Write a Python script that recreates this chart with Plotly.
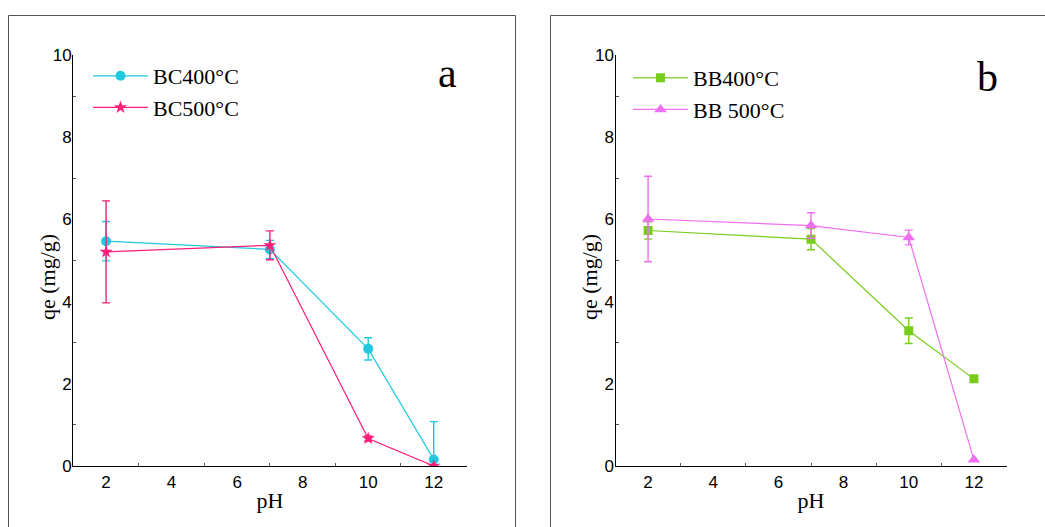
import plotly.graph_objects as go

W, H = 1045, 527

ph = [2, 7, 10, 12]

bc400 = [5.47, 5.27, 2.85, 0.16]
bc400_err = [0.48, 0.22, 0.27, 0.92]
bc500 = [5.21, 5.37, 0.67, 0.0]
bc500_err = [1.24, 0.35, 0.06, 0.0]

bb400 = [5.73, 5.52, 3.29, 2.12]
bb400_err = [0.21, 0.26, 0.31, 0.05]
bb500 = [6.01, 5.85, 5.56, 0.15]
bb500_err = [1.04, 0.31, 0.18, 0.0]

C_CYAN = "#1fc9e0"
C_PINK = "#ff1e79"
C_GREEN = "#77cc1c"
C_VIOLET = "#f06ef0"

SERIF = "Liberation Serif"
SANS = "Liberation Sans"

fig = go.Figure()

def add(x, y, err, name, color, symbol, size, xa, ya, leg):
    fig.add_trace(go.Scatter(
        x=x, y=y, name=name, mode="lines+markers",
        line=dict(color=color, width=1.2),
        marker=dict(color=color, symbol=symbol, size=size, line=dict(width=0)),
        error_y=dict(type="data", array=err, visible=True, color=color,
                     thickness=1.4, width=4),
        xaxis=xa, yaxis=ya, legend=leg,
    ))

add(ph, bc400, bc400_err, "BC400°C", C_CYAN, "circle", 10, "x", "y", "legend")
add(ph, bc500, bc500_err, "BC500°C", C_PINK, "star", 10, "x", "y", "legend")
add(ph, bb400, bb400_err, "BB400°C", C_GREEN, "square", 9, "x2", "y2", "legend2")
add(ph, bb500, bb500_err, "BB 500°C", C_VIOLET, "triangle-up", 11, "x2", "y2", "legend2")

dom_y = [1 - 466 / H, 1 - 55 / H]
dom_x1 = [73.3 / W, 466.5 / W]
dom_x2 = [615.5 / W, 1006.5 / W]

xax = dict(range=[1, 13], tickvals=[2, 4, 6, 8, 10, 12], showgrid=False, zeroline=False,
           showline=True, linecolor="black", linewidth=1.3, ticks="",
           minor=dict(tickvals=[3, 5, 7, 9, 11], ticks="inside", ticklen=3, tickcolor="#555"),
           tickfont=dict(family=SANS, size=17, color="black"),
           title=dict(text="pH", font=dict(family=SERIF, size=22, color="black"), standoff=2))
yax = dict(range=[0, 10], tickvals=[0, 2, 4, 6, 8, 10], showgrid=False, zeroline=False,
           showline=True, linecolor="black", linewidth=1.3, ticks="",
           minor=dict(tickvals=[1, 3, 5, 7, 9], ticks="inside", ticklen=3, tickcolor="#555"),
           tickfont=dict(family=SANS, size=17, color="black"), ticklabelstandoff=-3)

leg = dict(bgcolor="rgba(0,0,0,0)", borderwidth=0, xanchor="left", yanchor="top",
           font=dict(family=SERIF, size=22, color="black"), itemwidth=55, tracegroupgap=0)

ytitle = dict(text="qe (mg/g)", xref="paper", yref="paper", showarrow=False,
              textangle=-90, xanchor="center", yanchor="middle",
              font=dict(family=SERIF, size=22, color="black"))

fig.update_layout(
    width=W, height=H, margin=dict(l=0, r=0, t=0, b=0, autoexpand=False),
    paper_bgcolor="white", plot_bgcolor="white",
    xaxis=dict(domain=dom_x1, anchor="y", **xax),
    yaxis=dict(domain=dom_y, anchor="x", **yax),
    xaxis2=dict(domain=dom_x2, anchor="y2", **xax),
    yaxis2=dict(domain=dom_y, anchor="x2", **yax),
    legend=dict(x=88 / W, y=1 - 55 / H, **leg),
    legend2=dict(x=628 / W, y=1 - 57 / H, **leg),
    showlegend=True,
    shapes=[
        dict(type="rect", xref="paper", yref="paper", x0=8.5 / W, x1=515.5 / W,
             y0=-0.1, y1=1 - 15.5 / H, line=dict(color="#555", width=1)),
        dict(type="rect", xref="paper", yref="paper", x0=550.5 / W, x1=1.1,
             y0=-0.1, y1=1 - 15.5 / H, line=dict(color="#555", width=1)),
    ],
    annotations=[
        dict(text="a", xref="paper", yref="paper", x=447 / W, y=1 - 73 / H,
             showarrow=False, xanchor="center", yanchor="middle",
             font=dict(family=SERIF, size=42, color="black")),
        dict(text="b", xref="paper", yref="paper", x=987 / W, y=1 - 77 / H,
             showarrow=False, xanchor="center", yanchor="middle",
             font=dict(family=SERIF, size=42, color="black")),
        dict(x=47 / W, y=1 - 277 / H, **ytitle),
        dict(x=589 / W, y=1 - 277 / H, **ytitle),
    ],
)

fig.write_html("out.html")
